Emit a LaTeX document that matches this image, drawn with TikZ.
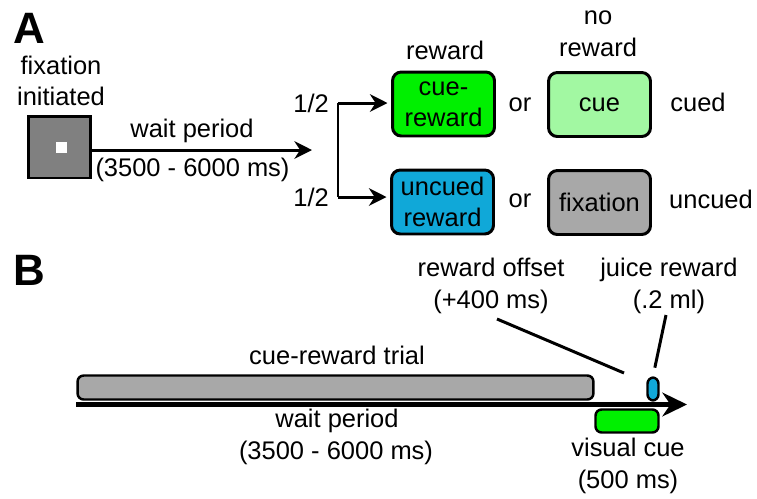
\documentclass[tikz,border=0pt]{standalone}
\usepackage{fontspec}
\setmainfont{Liberation Sans}
\usetikzlibrary{arrows.meta,positioning}
\usepackage{xcolor}
\definecolor{fixgray}{HTML}{808080}
\definecolor{bargray}{HTML}{A8A8A8}
\definecolor{cuegreen}{HTML}{00F000}
\definecolor{palegreen}{HTML}{A2F8A2}
\definecolor{juiceblue}{HTML}{10A8D8}

\begin{document}
\begin{tikzpicture}[x=0.02cm, y=-0.02cm,
    txt/.style={font=\fontsize{14.5}{18}\selectfont, align=center, inner sep=0pt},
    panel/.style={font=\fontsize{25}{28}\selectfont\bfseries, inner sep=0pt},
    trialbox/.style={draw, line width=1.7pt, rounded corners=5pt, minimum width=2.04cm,
        minimum height=1.28cm, align=center, inner sep=0pt, font=\fontsize{14.5}{17.5}\selectfont},
    timebox/.style={draw, line width=1.4pt, rounded corners=3.5pt, inner sep=0pt},
    arr/.style={line width=1.7pt, -{Stealth[length=10pt,width=10pt]}},
    lead/.style={line width=1.7pt}]
    \useasboundingbox (0,0) rectangle (757,498);

    % Panel A
    \node[panel] (labA) at (29,28) {A};
    \node[txt] (fixlbl) at (61,81) {fixation\\initiated};
    \node[draw, line width=1.7pt, fill=fixgray, minimum size=1.24cm, inner sep=0pt] (fix) at (59.5,147) {};
    \node[fill=white, minimum size=0.22cm, inner sep=0pt] (dot) at (61.5,147.5) {};

    \coordinate (split) at (312,150);
    \draw[arr] (fix.east |- split) -- (split);
    \node[txt] (waitA) at (192,131) {wait period};
    \node[txt] (durA) at (192.5,170) {(3500 - 6000 ms)};

    % outcome boxes
    \node[trialbox, fill=cuegreen] (cuerew) at (443.5,104) {cue-\\reward};
    \node[trialbox, fill=palegreen] (cue) at (599.5,104.5) {cue};
    \node[trialbox, fill=juiceblue] (uncrew) at (442.5,202) {uncued\\reward};
    \node[trialbox, fill=bargray] (fixbox) at (599.5,202.5) {fixation};

    \node[txt] (rewlbl) at (445,50) {reward};
    \node[txt] (norew) at (598,34) {no\\reward};
    \node[txt] (or1) at (520,105) {or};
    \node[txt] (or2) at (520,201) {or};
    \node[txt] (cued) at (698,102) {cued};
    \node[txt] (uncued) at (711,199) {uncued};

    % 50/50 split
    \coordinate (forktop) at (338,103);
    \coordinate (forkbot) at (338,197);
    \draw[lead] (forktop) -- (forkbot);
    \draw[arr, shorten >=2pt] (forktop) -- (forktop -| cuerew.west);
    \draw[arr, shorten >=2pt] (forkbot) -- (forkbot -| uncrew.west);
    \node[txt, left=5pt of forktop] (halfA) {1/2};
    \node[txt, left=5pt of forkbot] (halfB) {1/2};

    % Panel B
    \node[panel] (labB) at (29,270) {B};
    \coordinate (tstart) at (76,404.5);
    \coordinate (tend) at (687,404.5);
    \draw[line width=2.8pt, -{Stealth[length=14pt,width=13.5pt]}] (tstart) -- (tend);

    \node[timebox, fill=bargray, minimum width=10.32cm, minimum height=0.48cm] (trial) at (335.5,387.5) {};
    \node[timebox, fill=cuegreen, minimum width=1.26cm, minimum height=0.46cm] (vcue) at (627,421) {};
    \node[timebox, fill=juiceblue, minimum width=0.22cm, minimum height=0.46cm] (juice) at (653,389) {};

    \node[txt] (triallbl) at (337,355) {cue-reward trial};
    \node[txt] (waitB) at (337,421) {wait period};
    \node[txt] (durB) at (336,453) {(3500 - 6000 ms)};
    \node[txt] (vcuelbl) at (628,466) {visual cue\\(500 ms)};
    \node[txt] (offlbl) at (491,286) {reward offset\\(+400 ms)};
    \node[txt] (juicelbl) at (669,286) {juice reward\\(.2 ml)};

    % pointers
    \coordinate (offtop) at (497,319);
    \coordinate (offend) at (624,373);
    \coordinate (juicetop) at (666,315);
    \draw[lead] (offtop) -- (offend);
    \draw[lead, shorten >=5pt] (juicetop) -- (juice.north);
\end{tikzpicture}
\end{document}
